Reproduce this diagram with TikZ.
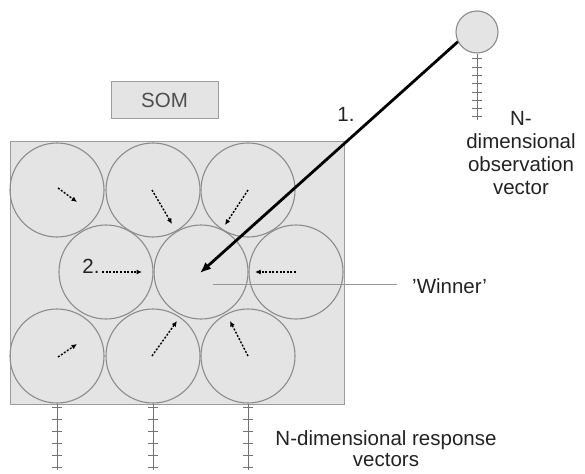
\documentclass[tikz,border=0pt]{standalone}
\usepackage{fontspec}
\setmainfont{Liberation Sans}
\usetikzlibrary{arrows.meta,calc}

\definecolor{panel}{HTML}{E4E4E4}
\definecolor{edge}{HTML}{8C8C8C}
\definecolor{ink}{HTML}{222222}

\tikzset{
  lbl/.style={text=ink, font=\fontsize{20.5}{23}\selectfont, inner sep=0pt},
  unit/.style={circle, draw=edge, line width=1.1pt, minimum size=94pt, inner sep=0pt},
  pole/.style={draw=gray!90!black, line width=1pt},
  pull/.style={line width=1.4pt, dash pattern=on 2pt off 1.6pt,
    -{Latex[length=5.5pt,width=5pt]}},
  input/.style={line width=2.8pt, -{Latex[length=11pt,width=9pt]}},
}

\begin{document}
\begin{tikzpicture}[x=1pt,y=-1pt]
\useasboundingbox (0,0) rectangle (585,473);

% map panel and its title box
\draw[draw=edge!85!white, fill=panel, line width=1pt] (10,142) rectangle (344,404);
\node[draw=edge!85!white, fill=panel, line width=1pt, minimum width=107pt,
      minimum height=37pt, lbl, text=ink!80!white] (som) at (164.5,100.5) {SOM};

% grid of map units
\node[unit] (c11) at (57,190) {};
\node[unit] (c12) at (153,190) {};
\node[unit] (c13) at (248,190) {};
\node[unit] (c21) at (106,272) {};
\node[unit] (win) at (201,272) {};
\node[unit] (c23) at (296,272) {};
\node[unit] (c31) at (57,356) {};
\node[unit] (c32) at (153,356) {};
\node[unit] (c33) at (248,356) {};

% neighbours pulled towards the winning unit
\draw[pull] ([shift={(1,-2)}]c11.center) -- ([shift={(20,12)}]c11.center);
\draw[pull] ([shift={(-1,0)}]c12.center) -- ([shift={(19,34)}]c12.center);
\draw[pull] (c13.center) -- ([shift={(-23,35)}]c13.center);
\draw[pull] ([shift={(-4,0)}]c21.center) -- ([shift={(36,0)}]c21.center);
\draw[pull] (c23.center) -- ([shift={(-41,0)}]c23.center);
\draw[pull] ([shift={(1,1)}]c31.center) -- ([shift={(20,-12)}]c31.center);
\draw[pull] ([shift={(-1,0)}]c32.center) -- ([shift={(24,-35)}]c32.center);
\draw[pull] (c33.center) -- ([shift={(-18,-35)}]c33.center);

% observation vector
\node[circle, draw=edge, fill=panel, line width=1.1pt, minimum size=42pt,
      inner sep=0pt] (obs) at (477,32) {};
\draw[pole] (obs.south) -- ++(0,66);
\foreach \t in {59,67.3,75.6,83.9,92.1,100.4,108.7,117}
  \draw[pole] (472,\t) -- (482,\t);

% response vectors hanging below the bottom row
\foreach \c in {c31,c32,c33} {
  \draw[pole] (\c.south) -- ++(0,66);
  \foreach \t in {4,16,28,40,52,64}
    \draw[pole] ([shift={(-5,\t)}]\c.south) -- ([shift={(5,\t)}]\c.south);
}

% input presented to the map
\draw[input] (obs.207) -- ([shift={(-1,1)}]win.center);

% winner pointer
\coordinate (wend) at (397,284);
\draw[draw=edge!90!white, line width=1pt] ([shift={(12,12)}]win.center) -- (wend);
\node[lbl, anchor=west] (wlab) at (412,286) {'Winner'};

% labels
\node[lbl] (one) at (346,114) {1.};
\node[lbl] (two) at (91,266) {2.};
\node[lbl, align=center] (obstxt) at (521,153) {N-\\dimensional\\observation\\vector};
\node[lbl, align=center, font=\fontsize{20.5}{21}\selectfont] (resptxt) at (386,449)
  {N-dimensional response\\vectors};
\end{tikzpicture}
\end{document}
